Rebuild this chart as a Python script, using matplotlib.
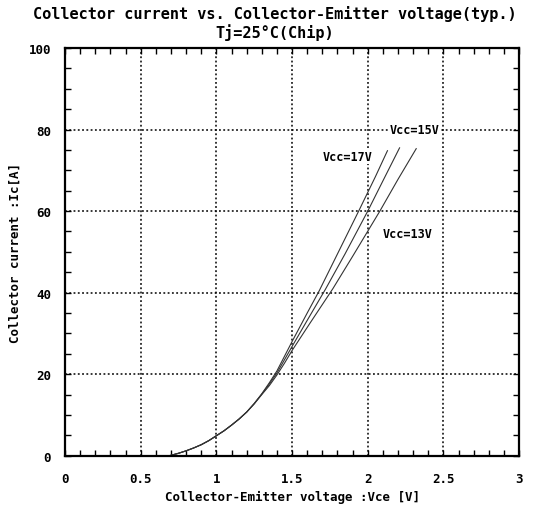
import matplotlib.pyplot as plt
from matplotlib.ticker import MultipleLocator

# Collector-Emitter voltage [V] and collector current [A]
vce_17 = [0.69, 0.75, 0.80, 0.85, 0.90, 0.95, 1.00, 1.05, 1.10, 1.15, 1.20, 1.25,
          1.30, 1.35, 1.40, 1.50, 1.60, 1.68, 1.80, 1.94, 2.05, 2.13]
ic_17 = [0.0, 0.6, 1.2, 1.9, 2.7, 3.7, 4.9, 6.1, 7.5, 9.0, 10.7, 12.8,
         15.2, 17.9, 20.8, 28.0, 35.0, 40.5, 49.5, 60.0, 68.4, 74.8]

vce_15 = [0.69, 0.75, 0.80, 0.85, 0.90, 0.95, 1.00, 1.05, 1.10, 1.15, 1.20, 1.25,
          1.30, 1.35, 1.40, 1.50, 1.60, 1.72, 1.85, 2.00, 2.10, 2.21]
ic_15 = [0.0, 0.6, 1.2, 1.9, 2.7, 3.7, 4.9, 6.1, 7.5, 9.0, 10.7, 12.8,
         15.1, 17.6, 20.3, 26.8, 33.2, 40.8, 49.5, 60.0, 67.4, 75.5]

vce_13 = [0.69, 0.75, 0.80, 0.85, 0.90, 0.95, 1.00, 1.05, 1.10, 1.15, 1.20, 1.25,
          1.30, 1.35, 1.40, 1.45, 1.50, 1.62, 1.77, 1.90, 2.08, 2.20, 2.32]
ic_13 = [0.0, 0.6, 1.2, 1.9, 2.7, 3.7, 4.9, 6.1, 7.5, 9.0, 10.7, 12.7,
         15.0, 17.2, 19.8, 22.7, 25.8, 32.6, 41.0, 48.9, 60.0, 67.8, 75.3]

series = [(vce_17, ic_17), (vce_15, ic_15), (vce_13, ic_13)]

labels = ['Vcc=15V', 'Vcc=17V', 'Vcc=13V']
label_x = [2.31, 1.87, 2.26]
label_y = [80.0, 73.3, 54.4]

x_ticks = [0, 0.5, 1, 1.5, 2, 2.5, 3]
y_ticks = [0, 20, 40, 60, 80, 100]

mono = 'DejaVu Sans Mono'

fig = plt.figure(figsize=(5.33, 5.1), dpi=100)
ax = fig.add_axes([0.122, 0.1045, 0.852, 0.7995])

for v, i in series:
    ax.plot(v, i, color='#333333', linewidth=0.8)

for t, x, y in zip(labels, label_x, label_y):
    ax.text(x, y, t, ha='center', va='center', fontsize=8.5, family=mono,
            fontweight='bold', zorder=5,
            bbox=dict(facecolor='white', edgecolor='none', pad=0.5))

ax.set_xlim(0, 3)
ax.set_ylim(0, 100)
ax.set_xticks(x_ticks)
ax.set_yticks(y_ticks)
ax.set_xticklabels([str(t) for t in x_ticks], family=mono, fontsize=9, fontweight='bold')
ax.set_yticklabels([str(t) for t in y_ticks], family=mono, fontsize=9, fontweight='bold')
ax.xaxis.set_minor_locator(MultipleLocator(0.1))
ax.yaxis.set_minor_locator(MultipleLocator(5))
ax.tick_params(which='both', direction='in', top=True, right=True, width=1.0)
ax.tick_params(which='major', length=4)
ax.tick_params(which='minor', length=4)
ax.tick_params(axis='x', which='major', pad=12)
ax.tick_params(axis='y', which='major', pad=10)
ax.grid(True, which='major', color='black', linestyle=(0, (1.2, 1.6)), linewidth=1.1)
for s in ax.spines.values():
    s.set_linewidth(1.6)

ax.set_xlabel('Collector-Emitter voltage :Vce [V]', family=mono, fontsize=9,
              fontweight='bold', labelpad=3)
ax.set_ylabel('Collector current :Ic[A]', family=mono, fontsize=9,
              fontweight='bold', labelpad=5)

fig.text(0.515, 0.972, 'Collector current vs. Collector-Emitter voltage(typ.)',
         ha='center', va='center', family=mono, fontsize=11, fontweight='bold')
fig.text(0.515, 0.937, 'Tj=25°C(Chip)', ha='center', va='center', family=mono,
         fontsize=11, fontweight='bold')

fig.savefig('out.png', dpi=100)
